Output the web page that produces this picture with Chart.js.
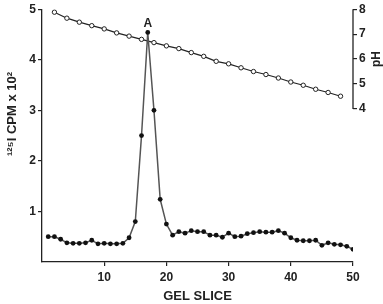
<!DOCTYPE html>
<html><head><meta charset="utf-8">
<script src="https://cdn.jsdelivr.net/npm/chart.js@4/dist/chart.umd.min.js"></script>
<style>html,body{margin:0;padding:0;background:#fff}#wrap{width:383px;height:304px}</style>
</head><body><div id="wrap"><canvas id="c" width="383" height="304"></canvas></div>
<script>
const slices = [1,2,3,4,5,6,7,8,9,10,11,12,13,14,15,16,17,18,19,20,21,22,23,24,25,26,27,28,29,30,31,32,33,34,35,36,37,38,39,40,41,42,43,44,45,46,47,48,49,50];
const cpm = [0.5,0.5,0.45,0.38,0.37,0.37,0.38,0.43,0.36,0.37,0.36,0.36,0.37,0.48,0.8,2.5,4.54,3.0,1.24,0.75,0.53,0.6,0.57,0.62,0.6,0.6,0.53,0.53,0.49,0.57,0.5,0.51,0.56,0.58,0.6,0.59,0.59,0.62,0.57,0.48,0.43,0.42,0.42,0.43,0.33,0.38,0.35,0.34,0.31,0.25];
const phSlices = [2,4,6,8,10,12,14,16,18,20,22,24,26,28,30,32,34,36,38,40,42,44,46,48];
const ph = [7.88,7.64,7.48,7.34,7.21,7.05,6.92,6.79,6.66,6.53,6.42,6.26,6.11,5.91,5.81,5.65,5.5,5.38,5.24,5.08,4.95,4.79,4.66,4.51];
const xTicks = [10,20,30,40,50];
const yTicks = [1,2,3,4,5];
const phTicks = [4,5,6,7,8];
const peakSlice = 17;
const peakLabel = "A";
const xTitle = "GEL SLICE";
const yTitle = "\u00B9\u00B2\u2075I CPM x 10\u00B2";
const phTitle = "pH";

const FONT = "'Liberation Sans', Arial, sans-serif";
const INK = '#222';

const extras = {
  id: 'extras',
  afterDraw(chart) {
    const ctx = chart.ctx;
    const y1 = chart.scales.y1, x = chart.scales.x, y = chart.scales.y;
    ctx.save();
    ctx.strokeStyle = INK; ctx.lineWidth = 1.3;
    ctx.beginPath();
    ctx.moveTo(y1.left, y1.getPixelForValue(phTicks[0]));
    ctx.lineTo(y1.left, y1.getPixelForValue(phTicks[phTicks.length-1]));
    ctx.stroke();
    const i = slices.indexOf(peakSlice);
    ctx.fillStyle = INK;
    ctx.font = "bold 12px " + FONT;
    ctx.textAlign = 'center'; ctx.textBaseline = 'bottom';
    ctx.fillText(peakLabel, x.getPixelForValue(peakSlice), y.getPixelForValue(cpm[i]) - 3);
    ctx.font = "bold 13px " + FONT;
    ctx.textBaseline = 'middle';
    ctx.translate(12, 114); ctx.rotate(-Math.PI/2);
    ctx.fillText(yTitle, 0, 0);
    ctx.restore();
    ctx.save();
    ctx.fillStyle = INK;
    ctx.font = "bold 12px " + FONT;
    ctx.textAlign = 'center'; ctx.textBaseline = 'middle';
    ctx.translate(377, (y1.getPixelForValue(phTicks[0]) + y1.getPixelForValue(phTicks[phTicks.length-1]))/2);
    ctx.rotate(-Math.PI/2);
    ctx.fillText(phTitle, 0, 0);
    ctx.restore();
  }
};

new Chart(document.getElementById('c'), {
  type: 'line',
  data: {
    datasets: [
      {
        label: 'CPM',
        data: slices.map((s, k) => ({x: s, y: cpm[k]})),
        yAxisID: 'y',
        borderColor: '#555', borderWidth: 1.5,
        pointBackgroundColor: '#111', pointBorderColor: '#111',
        pointRadius: 2.4, pointBorderWidth: 0, tension: 0
      },
      {
        label: 'pH',
        data: phSlices.map((s, k) => ({x: s, y: ph[k]})),
        yAxisID: 'y1',
        borderColor: '#222', borderWidth: 1.2,
        pointBackgroundColor: '#fff', pointBorderColor: '#222',
        pointRadius: 2.2, pointBorderWidth: 1, tension: 0
      }
    ]
  },
  options: {
    responsive: false, animation: false,
    layout: {padding: {top: 6, right: 0, left: 0, bottom: 0}},
    plugins: {legend: {display: false}, tooltip: {enabled: false}},
    scales: {
      x: {
        type: 'linear', min: 0, max: 50,
        afterBuildTicks: s => { s.ticks = xTicks.map(v => ({value: v})); },
        afterFit: s => { s.height = 42; },
        border: {display: true, color: INK, width: 1.3},
        grid: {display: true, drawOnChartArea: false, drawTicks: true, tickLength: 4, color: INK, lineWidth: 1.2},
        ticks: {color: INK, font: {family: FONT, size: 12, weight: 'bold'}, padding: 4, maxRotation: 0},
        title: {display: true, text: xTitle, color: INK, font: {family: FONT, size: 13, weight: 'bold'}, padding: {top: 2, bottom: 0}}
      },
      y: {
        type: 'linear', position: 'left', min: 0, max: 5,
        afterBuildTicks: s => { s.ticks = yTicks.map(v => ({value: v})); },
        afterFit: s => { s.width = 42; },
        border: {display: true, color: INK, width: 1.3},
        grid: {display: true, drawOnChartArea: false, drawTicks: true, tickLength: 4, color: INK, lineWidth: 1.2},
        ticks: {color: INK, font: {family: FONT, size: 12, weight: 'bold'}, padding: 2}
      },
      y1: {
        type: 'linear', position: 'right',
        min: 8 - (8 - 4) * 256 / 101, max: 8,
        afterBuildTicks: s => { s.ticks = phTicks.map(v => ({value: v})); },
        afterFit: s => { s.width = 30; },
        border: {display: false},
        grid: {display: true, drawOnChartArea: false, drawTicks: true, tickLength: 4, color: INK, lineWidth: 1.2},
        ticks: {color: INK, font: {family: FONT, size: 12, weight: 'bold'}, padding: 2}
      }
    }
  },
  plugins: [extras]
});
</script></body></html>
